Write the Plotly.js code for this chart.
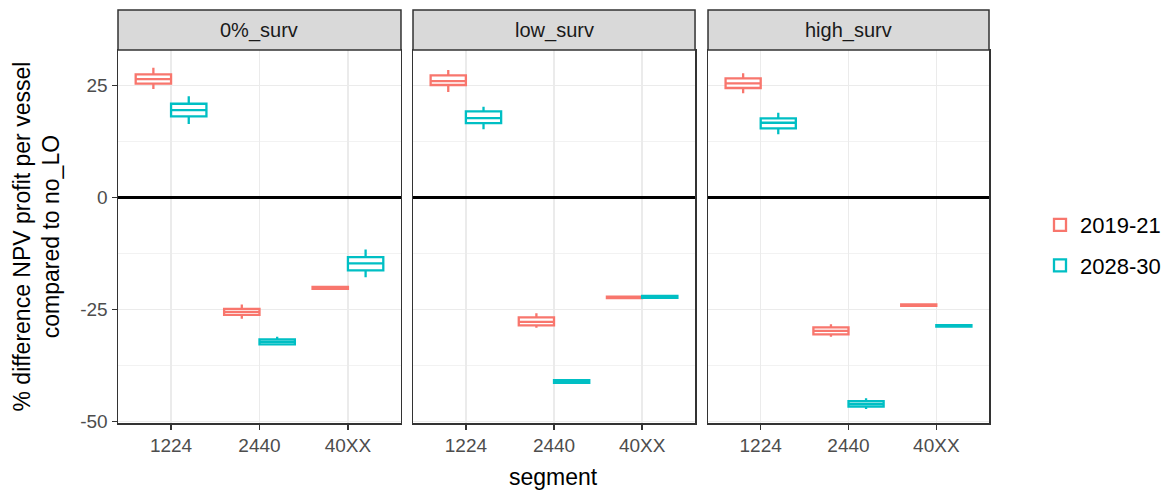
<!DOCTYPE html>
<html>
<head>
<meta charset="utf-8">
<script src="https://cdn.plot.ly/plotly-3.0.1.min.js"></script>
<style>
  html, body { margin: 0; padding: 0; background: #ffffff; }
  #chart { width: 1161px; height: 499px; }
</style>
</head>
<body>
<div id="chart"></div>
<script>
// Segments on the x axis, survival scenarios as facets, periods as fill groups
const segments = ['1224', '2440', '40XX'];
const facets = ['0%_surv', 'low_surv', 'high_surv'];
const periods = ['2019-21', '2028-30'];
const periodColors = ['#F8766D', '#00BFC4'];

// Box statistics: one row per facet, one value per segment
const lower_2019 = [[24.27, -27.11, -20.40], [23.60, -29.13, -22.45], [23.31, -31.14, -24.20]];
const q1_2019    = [[25.46, -26.22, -20.40], [25.17, -28.59, -22.45], [24.50, -30.60, -24.20]];
const med_2019   = [[26.50, -25.55, -20.18], [26.06, -27.78, -22.30], [25.55, -29.82, -24.05]];
const q3_2019    = [[27.56, -24.88, -19.95], [27.34, -26.80, -22.15], [26.67, -29.04, -23.90]];
const upper_2019 = [[29.04, -23.89, -19.95], [28.52, -25.84, -22.15], [27.79, -28.30, -23.90]];

const lower_2028 = [[16.44, -32.84, -17.79], [15.26, -41.40, -22.40], [14.14, -47.25, -28.85]];
const q1_2028    = [[18.17, -32.84, -16.29], [16.67, -41.40, -22.40], [15.48, -46.71, -28.85]];
const med_2028   = [[19.57, -32.28, -14.72], [17.79, -41.10, -22.19], [16.73, -46.13, -28.68]];
const q3_2028    = [[20.98, -31.72, -13.31], [19.28, -40.80, -22.00], [17.72, -45.53, -28.50]];
const upper_2028 = [[22.64, -31.14, -11.59], [20.31, -40.80, -22.00], [18.97, -44.85, -28.50]];

const yTickVals = [-50, -25, 0, 25];
const yRange = [-50.4, 33.0];

const stats = [
  { lower: lower_2019, q1: q1_2019, med: med_2019, q3: q3_2019, upper: upper_2019 },
  { lower: lower_2028, q1: q1_2028, med: med_2028, q3: q3_2028, upper: upper_2028 }
];

const FONT = 'Liberation Sans, Arial, Helvetica, sans-serif';
const axisSuffix = ['', '2', '3'];
const domains = [[0, 0.3249], [0.3387, 0.6625], [0.6774, 1]];

const traces = [];
facets.forEach((facet, f) => {
  periods.forEach((period, p) => {
    const s = stats[p];
    traces.push({
      type: 'box',
      name: period,
      legendgroup: period,
      showlegend: f === 0,
      offsetgroup: period,
      x: segments,
      lowerfence: s.lower[f],
      q1: s.q1[f],
      median: s.med[f],
      q3: s.q3[f],
      upperfence: s.upper[f],
      boxpoints: false,
      whiskerwidth: 0,
      fillcolor: '#FFFFFF',
      line: { color: periodColors[p], width: 2.3 },
      xaxis: 'x' + axisSuffix[f],
      yaxis: 'y' + axisSuffix[f],
      hoverinfo: 'skip'
    });
  });
});

const layout = {
  width: 1161,
  height: 499,
  margin: { l: 118, r: 172, t: 50, b: 76 },
  paper_bgcolor: '#FFFFFF',
  plot_bgcolor: '#FFFFFF',
  font: { family: FONT, color: '#000000' },
  boxmode: 'group',
  boxgap: 0.2,
  boxgroupgap: 0,
  showlegend: true,
  legend: {
    xref: 'container', yref: 'container',
    x: 1040 / 1161, xanchor: 'left',
    y: 1 - 204 / 499, yanchor: 'top',
    font: { family: FONT, size: 22, color: '#000000' },
    traceorder: 'grouped',
    tracegroupgap: 9,
    bgcolor: 'rgba(0,0,0,0)'
  },
  shapes: [],
  annotations: []
};

facets.forEach((facet, f) => {
  const sx = axisSuffix[f];
  layout['xaxis' + sx] = {
    domain: domains[f],
    anchor: 'y' + sx,
    type: 'category',
    categoryorder: 'array',
    categoryarray: segments,
    range: [-0.6, 2.6],
    showgrid: true,
    gridcolor: '#EBEBEB',
    gridwidth: 1.4,
    zeroline: false,
    showline: true,
    mirror: true,
    linecolor: '#333333',
    linewidth: 1.5,
    ticks: 'outside',
    ticklen: 5,
    tickwidth: 1.4,
    tickcolor: '#333333',
    tickfont: { family: FONT, size: 19, color: '#4D4D4D' },
    fixedrange: true
  };
  layout['yaxis' + sx] = {
    domain: [0, 1],
    anchor: 'x' + sx,
    range: yRange,
    tickvals: yTickVals,
    ticktext: yTickVals.map(String),
    showticklabels: f === 0,
    ticks: f === 0 ? 'outside' : '',
    ticklen: 5,
    tickwidth: 1.4,
    tickcolor: '#333333',
    tickfont: { family: FONT, size: 19, color: '#4D4D4D' },
    showgrid: true,
    gridcolor: '#EBEBEB',
    gridwidth: 1.4,
    minor: { tickvals: [-37.5, -12.5, 12.5], showgrid: true, gridcolor: '#F2F2F2', gridwidth: 1, ticks: '' },
    zeroline: true,
    zerolinecolor: '#000000',
    zerolinewidth: 2.2,
    showline: true,
    mirror: true,
    linecolor: '#333333',
    linewidth: 1.5,
    fixedrange: true
  };
  if (f > 0) layout['yaxis' + sx].matches = 'y';

  // facet strip
  layout.shapes.push({
    type: 'rect',
    xref: 'x' + sx + ' domain', yref: 'paper',
    x0: 0, x1: 1, y0: 1, y1: 1 + 40 / 373,
    fillcolor: '#D9D9D9',
    line: { color: '#333333', width: 1.5 },
    layer: 'above'
  });
  layout.annotations.push({
    xref: 'x' + sx + ' domain', yref: 'paper',
    x: 0.5, y: 1 + 19 / 373,
    xanchor: 'center', yanchor: 'middle',
    text: facet,
    showarrow: false,
    font: { family: FONT, size: 20, color: '#1A1A1A' }
  });
});

// axis titles
layout.annotations.push({
  xref: 'paper', yref: 'paper',
  x: (36 - 118) / 871, y: 0.5,
  xanchor: 'center', yanchor: 'middle',
  textangle: -90,
  text: '% difference NPV profit per vessel<br>compared to no_LO',
  showarrow: false,
  font: { family: FONT, size: 23, color: '#000000' }
});
layout.annotations.push({
  xref: 'paper', yref: 'paper',
  x: 0.5, y: -(477 - 423) / 373,
  xanchor: 'center', yanchor: 'middle',
  text: 'segment',
  showarrow: false,
  font: { family: FONT, size: 23, color: '#000000' }
});

Plotly.newPlot('chart', traces, layout, { displayModeBar: false, staticPlot: true });
</script>
</body>
</html>
